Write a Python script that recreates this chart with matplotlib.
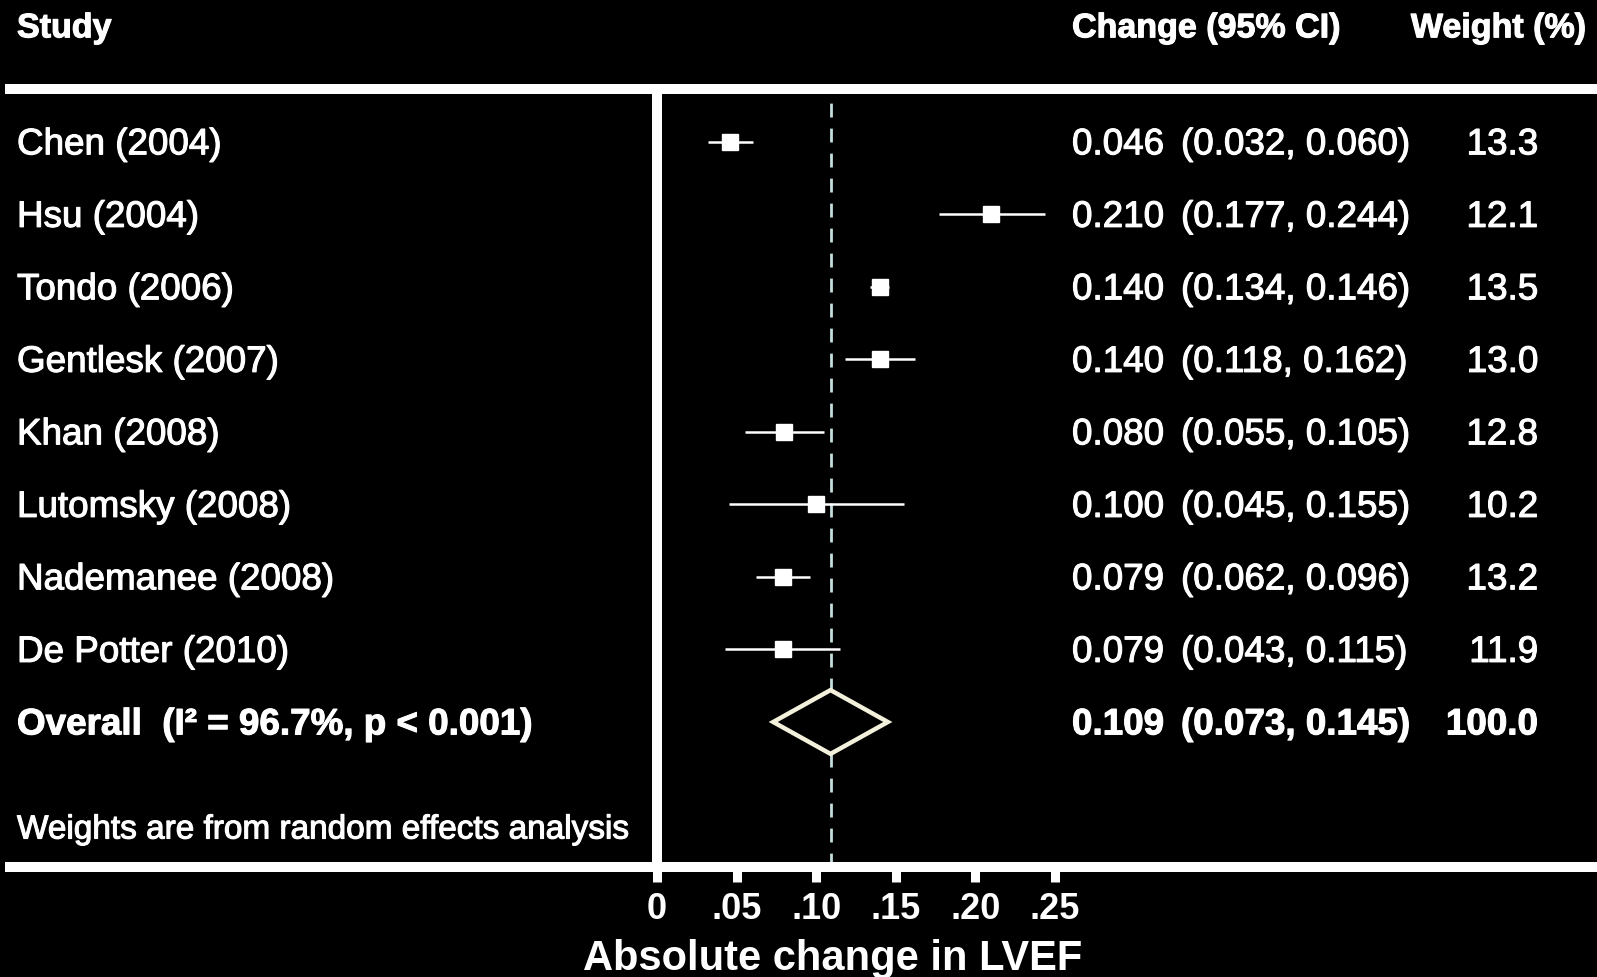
import matplotlib
matplotlib.use("Agg")
import matplotlib.pyplot as plt
import matplotlib.patheffects as pe
from matplotlib.lines import Line2D
from matplotlib.patches import Polygon
from matplotlib.transforms import blended_transform_factory

# study-level estimates of absolute change in LVEF
studies = ['Chen (2004)', 'Hsu (2004)', 'Tondo (2006)', 'Gentlesk (2007)',
           'Khan (2008)', 'Lutomsky (2008)', 'Nademanee (2008)', 'De Potter (2010)']
estimates = [0.046, 0.210, 0.140, 0.140, 0.080, 0.100, 0.079, 0.079]
ci_low = [0.032, 0.177, 0.134, 0.118, 0.055, 0.045, 0.062, 0.043]
ci_high = [0.060, 0.244, 0.146, 0.162, 0.105, 0.155, 0.096, 0.115]
weights = [13.3, 12.1, 13.5, 13.0, 12.8, 10.2, 13.2, 11.9]

overall_label = 'Overall  (I\u00b2 = 96.7%, p < 0.001)'
overall_est, overall_low, overall_high = 0.109, 0.073, 0.145
overall_weight = 100.0

xticks = [0, 0.05, 0.10, 0.15, 0.20, 0.25]
xtick_labels = ['0', '.05', '.10', '.15', '.20', '.25']

W, H = 1597, 977
plt.rcParams['font.family'] = ['Liberation Sans', 'DejaVu Sans']

fig = plt.figure(figsize=(W / 100, H / 100), dpi=100, facecolor='black')
ax_left, ax_top, ax_bottom = 657, 89, 867
ax = fig.add_axes([ax_left / W, 1 - ax_bottom / H, (W - ax_left) / W, (ax_bottom - ax_top) / H])
ax.set_facecolor('black')
px_per_unit = 1592  # pixels per unit of change
ax.set_xlim(0, (W - ax_left) / px_per_unit)
ax.set_ylim(11.0, 0.27)

for side in ['top', 'right', 'bottom']:
    ax.spines[side].set_visible(False)
ax.spines['left'].set_color('white')
ax.spines['left'].set_linewidth(7.2)

ax.set_xticks(xticks)
ax.set_xticklabels(xtick_labels, fontsize=26, fontweight='bold', color='white')
ax.tick_params(axis='x', direction='out', length=11, width=6.5, color='white', pad=7)
ax.set_yticks([])
ax.set_xlabel('Absolute change in LVEF', fontsize=30, fontweight='bold', color='white')

# horizontal rules across the whole table
for ypix in (ax_top, ax_bottom):
    fig.add_artist(Line2D([10 / W, 1], [1 - ypix / H] * 2, color='white', lw=7.2,
                          transform=fig.transFigure))

rows = list(range(1, len(studies) + 1))
overall_row = len(studies) + 1

# reference line at the pooled estimate
ax.axvline(overall_est, color='#c4dede', lw=2, linestyle=(0, (5, 4)), zorder=1)

# confidence intervals and point estimates
ax.hlines(rows, ci_low, ci_high, color='white', lw=1.8, zorder=2)
ax.plot(estimates, rows, 's', color='white', markersize=11.5, zorder=3)

# pooled estimate diamond
h = 0.44
diamond = Polygon([(overall_low, overall_row), (overall_est, overall_row - h),
                   (overall_high, overall_row), (overall_est, overall_row + h)],
                  closed=True, facecolor='black', edgecolor='#f3f1dc', lw=3.2, zorder=3)
ax.add_patch(diamond)

# text columns: x in figure fraction, y in row units
tr = blended_transform_factory(fig.transFigure, ax.transData)
x_study, x_est, x_ci, x_wt = 17 / W, 1072 / W, 1181 / W, 1538 / W
fs = 26.5
dy = 0.04  # nudge text down onto the marker centre line
heavy = [pe.withStroke(linewidth=0.8, foreground='white')]
base = dict(transform=tr, color='white', va='center', clip_on=False, path_effects=heavy)

ax.text(x_study, -0.56, 'Study', fontsize=24.5, fontweight='bold', **base)
ax.text(x_est, -0.56, 'Change (95% CI)', fontsize=24.5, fontweight='bold', **base)
ax.text(1586 / W, -0.56, 'Weight (%)', fontsize=24.5, fontweight='bold', ha='right', **base)

for r, name, e, lo, hi, w in zip(rows, studies, estimates, ci_low, ci_high, weights):
    ax.text(x_study, r + dy, name, fontsize=fs, **base)
    ax.text(x_est, r + dy, f'{e:.3f}', fontsize=fs, **base)
    ax.text(x_ci, r + dy, f'({lo:.3f}, {hi:.3f})', fontsize=fs, **base)
    ax.text(x_wt, r + dy, f'{w:.1f}', fontsize=fs, ha='right', **base)

yo = overall_row + dy
ax.text(x_study, yo, overall_label, fontsize=fs, fontweight='bold', **base)
ax.text(x_est, yo, f'{overall_est:.3f}', fontsize=fs, fontweight='bold', **base)
ax.text(x_ci, yo, f'({overall_low:.3f}, {overall_high:.3f})', fontsize=fs, fontweight='bold', **base)
ax.text(x_wt, yo, f'{overall_weight:.1f}', fontsize=fs, fontweight='bold', ha='right', **base)

ax.text(x_study, 10.49, 'Weights are from random effects analysis', fontsize=24, **base)

# axis title centred under the plotted range
ax.xaxis.set_label_coords((833 - ax_left) / (W - ax_left), -(959 - ax_bottom) / (ax_bottom - ax_top),
                          transform=ax.transAxes)
ax.xaxis.label.set_va('center')

fig.savefig('out.png', dpi=100, facecolor='black')
